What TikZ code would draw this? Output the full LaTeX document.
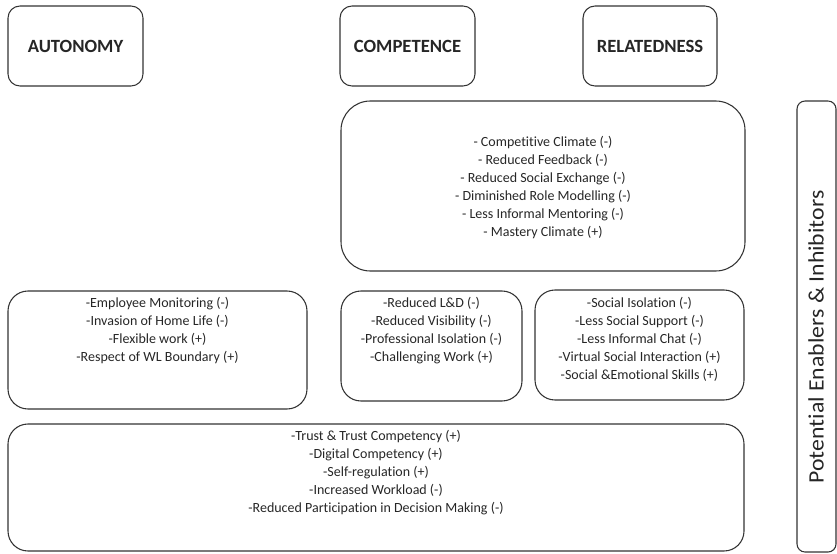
\documentclass[tikz,border=0pt]{standalone}
\usepackage{fontspec}
\setmainfont[Ligatures=NoCommon]{Carlito}
\usepackage{graphicx}
\tikzset{
	box/.style={draw=black!80, line width=0.8pt},
	need/.style={font=\bfseries\fontsize{14}{16}\selectfont, text=black!85},
	items/.style={align=center, inner sep=0pt, font=\fontsize{10.5}{13.5}\selectfont, text=black!85},
}

\begin{document}
\begin{tikzpicture}[x=0.75pt, y=-0.75pt]
			%%%%% START %%%%%
			
			\useasboundingbox (0,0) rectangle (837,553);
			
			\draw[box, rounded corners=9pt] (8, 6) rectangle (143, 86);
			\node[need] (autonomy) at (75.5, 46) {AUTONOMY};
			
			\draw[box, rounded corners=9pt] (340, 6) rectangle (475, 86);
			\node[need] (competence) at (407.5, 46) {COMPETENCE};
			
			\draw[box, rounded corners=9pt] (583, 6) rectangle (717, 86);
			\node[need] (relatedness) at (650, 46) {RELATEDNESS};
			
			\draw[box, rounded corners=22pt] (341, 101) rectangle (745, 271);
			\node[items] (compclimate) at (543, 188) {- Competitive Climate (-)\\- Reduced Feedback (-)\\- Reduced Social Exchange (-)\\- Diminished Role Modelling (-)\\- Less Informal Mentoring (-)\\- Mastery Climate (+)};
			
			\draw[box, rounded corners=15pt] (8, 291) rectangle (307, 409);
			\node[items] (autoitems) at (157.5, 331) {-Employee Monitoring (-)\\-Invasion of Home Life (-)\\-Flexible work (+)\\-Respect of WL Boundary (+)};
			
			\draw[box, rounded corners=15pt] (341, 291) rectangle (522, 401);
			\node[items] (compitems) at (431.5, 331) {-Reduced L\&D (-)\\-Reduced Visibility (-)\\-Professional Isolation (-)\\-Challenging Work (+)};
			
			\draw[box, rounded corners=15pt] (535, 290) rectangle (744, 400);
			\node[items] (relitems) at (639.5, 339.5) {-Social Isolation (-)\\-Less Social Support (-)\\-Less Informal Chat (-)\\-Virtual Social Interaction (+)\\-Social \&Emotional Skills (+)};
			
			\draw[box, rounded corners=15pt] (8, 424) rectangle (744, 551);
			\node[items] (sharedItems) at (376, 473) {-Trust \& Trust Competency (+)\\-Digital Competency (+)\\-Self-regulation (+)\\-Increased Workload (-)\\-Reduced Participation in Decision Making (-)};
			
			\draw[box, rounded corners=6pt] (797, 101) rectangle (836, 552);
			\node[rotate=90, inner sep=0pt, text=black!85, font=\fontsize{16.5}{18}\selectfont] (enablers) at (816, 337) {\scalebox{1.08}[1]{Potential Enablers \& Inhibitors}};
			
			%%%%% END %%%%%
		\end{tikzpicture}
\end{document}
